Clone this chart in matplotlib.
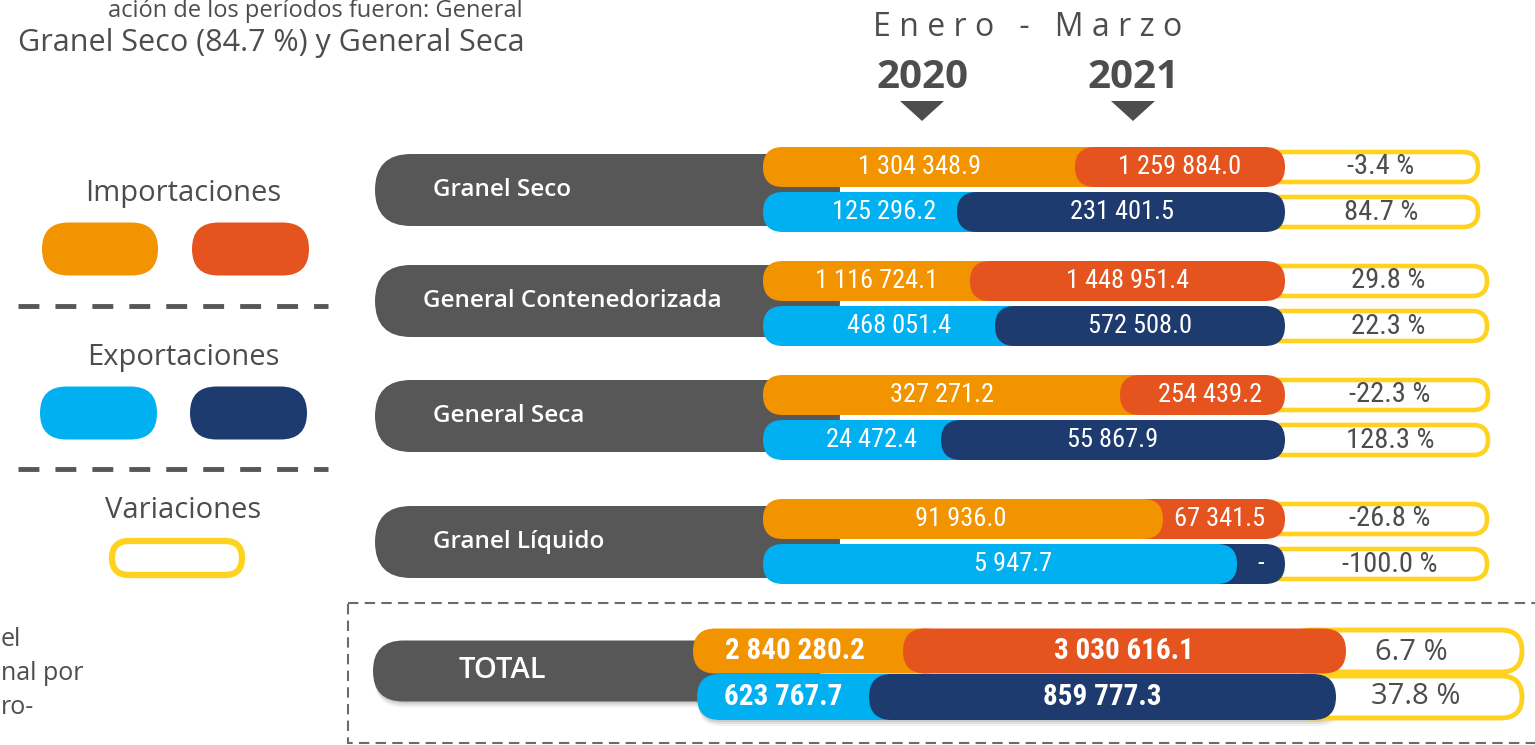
import os
import numpy as np
import matplotlib.pyplot as plt
from matplotlib.patches import FancyBboxPatch, Rectangle, Polygon
from matplotlib import font_manager
from matplotlib.font_manager import FontProperties

# ---------------- data ----------------
categorias = ["Granel Seco", "General Contenedorizada", "General Seca", "Granel Líquido"]
imp_2020 = [1304348.9, 1116724.1, 327271.2, 91936.0]
imp_2021 = [1259884.0, 1448951.4, 254439.2, 67341.5]
exp_2020 = [125296.2, 468051.4, 24472.4, 5947.7]
exp_2021 = [231401.5, 572508.0, 55867.9, 0.0]
var_imp = [-3.4, 29.8, -22.3, -26.8]
var_exp = [84.7, 22.3, 128.3, -100.0]
total_imp = [2840280.2, 3030616.1]
total_exp = [623767.7, 859777.3]
var_total = [6.7, 37.8]
anios = ["2020", "2021"]

# ---------------- colours ----------------
c_imp20 = "#F29400"
c_imp21 = "#E5531F"
c_exp20 = "#00B0F0"
c_exp21 = "#1E3B6F"
c_grey = "#575757"
c_yel = "#FFD21F"
c_txt = "#4D4D4D"

# condensed font for the numbers, if one is installed
files = [f.fname for f in font_manager.fontManager.ttflist]
def find(patterns):
    for p in patterns:
        for f in files:
            if os.path.basename(f).lower() == p.lower():
                return f
    return None

reg_file = find(["RobotoCondensed-Regular.ttf", "DejaVuSansCondensed.ttf"])
bold_file = find(["RobotoCondensed-Bold.ttf", "DejaVuSansCondensed-Bold.ttf"])

def numfont(size, bold=False):
    f = bold_file if bold else reg_file
    if f:
        return FontProperties(fname=f, size=size)
    return FontProperties(family="DejaVu Sans", size=size * 0.85,
                          weight="bold" if bold else "normal")

f_txt = ["Open Sans", "DejaVu Sans"]

def fmt(v):
    if v == 0:
        return "-"
    return f"{v:,.1f}".replace(",", " ")

def pct(v):
    return f"{v:.1f} %"

def pill(ax, x0, x1, yc, h, fc, ec="none", lw=0, z=2, alpha=1):
    p = FancyBboxPatch((x0, yc - h / 2), x1 - x0, h,
                       boxstyle=f"round,pad=0,rounding_size={h/2}",
                       fc=fc, ec=ec, lw=lw, zorder=z, alpha=alpha)
    ax.add_patch(p)

def shadow(ax, x0, x1, yc, h, z):
    for k, a in [(6, 0.05), (4, 0.07), (2, 0.09)]:
        pill(ax, x0 + 1, x1 + k, yc + k, h, "black", z=z, alpha=a)

fig = plt.figure(figsize=(15.35, 7.45), dpi=100)
ax = fig.add_axes([0, 0, 1, 1])
ax.set_xlim(0, 1535)
ax.set_ylim(745, 0)
ax.axis("off")

# ---------------- layout (pixels) ----------------
row_y = [190, 301, 416, 542]
imp_y = [167, 281, 395, 519]
exp_y = [212, 326, 440, 564]
imp_split = [1075, 970, 1120, 1163]
exp_split = [957, 995, 941, 1237]
top21 = [True, True, True, False]
imp20_tx = [920, 877, 942, 961]
imp21_tx = [1180, 1128, 1210, 1220]
exp20_tx = [884, 899, 871, 1013]
exp21_tx = [1122, 1140, 1113, 1261]
var_tx = [1381, 1388, 1390, 1390]
var_right = [1478, 1487, 1488, 1487]
x_left, x_right, h_bar = 763, 1285, 40

def split_bar(ax, yc, split, on_top21, c20, c21, v20, v21, h, x0, x1, fp, t20, t21, z0=3):
    r = h / 2
    if on_top21:
        pill(ax, x0, split + 2 * r, yc, h, c20, z=z0)
        pill(ax, split, x1, yc, h, c21, z=z0 + 1)
    else:
        pill(ax, split - 2 * r, x1, yc, h, c21, z=z0)
        pill(ax, x0, split, yc, h, c20, z=z0 + 1)
    ax.text(t20, yc, fmt(v20), color="white", fontproperties=fp, ha="center", va="center",
            zorder=z0 + 3)
    ax.text(t21, yc, fmt(v21), color="white", fontproperties=fp, ha="center", va="center",
            zorder=z0 + 3)

for i, cat in enumerate(categorias):
    pill(ax, 375, 840, row_y[i], 72, c_grey, z=1)
    ax.text(433 if i != 1 else 423, row_y[i], cat, color="white", fontsize=17.5, weight="semibold",
            family=f_txt, ha="left", va="center", zorder=6)
    split_bar(ax, imp_y[i], imp_split[i], top21[i], c_imp20, c_imp21, imp_2020[i], imp_2021[i],
              h_bar, x_left, x_right, numfont(19), imp20_tx[i], imp21_tx[i])
    split_bar(ax, exp_y[i], exp_split[i], top21[i], c_exp20, c_exp21, exp_2020[i], exp_2021[i],
              h_bar, x_left, x_right, numfont(19), exp20_tx[i], exp21_tx[i])
    for yc, v in [(imp_y[i], var_imp[i]), (exp_y[i], var_exp[i])]:
        pill(ax, 1230, var_right[i], yc, 30, "white", ec=c_yel, lw=3.3, z=2)
        ax.text(var_tx[i], yc, pct(v), color=c_txt, fontproperties=numfont(20.5),
                ha="center", va="center", zorder=6)

# ---------------- total ----------------
ax.add_patch(Rectangle((348, 603), 1300, 140, fill=False, ec="#6b6b6b", lw=1.5,
                       ls=(0, (5, 3)), zorder=0))
shadow(ax, 373, 820, 671, 61, z=0.5)
pill(ax, 373, 820, 671, 61, c_grey, z=1)
ax.text(502, 671, "TOTAL", color="white", fontsize=21, weight="semibold",
        family=f_txt, ha="center", va="center", zorder=6)
shadow(ax, 697, 1336, 697, 46, z=1.5)
pill(ax, 1290, 1522, 651, 42, "white", ec=c_yel, lw=3.5, z=2)
pill(ax, 1290, 1522, 697, 42, "white", ec=c_yel, lw=3.5, z=2)
split_bar(ax, 697, 869, True, c_exp20, c_exp21, total_exp[0], total_exp[1], 46, 697, 1336,
          numfont(21, bold=True), 783, 1102, z0=3)
split_bar(ax, 651, 903, True, c_imp20, c_imp21, total_imp[0], total_imp[1], 45, 693, 1346,
          numfont(21, bold=True), 795, 1124, z0=5)
ax.text(1411, 652, pct(var_total[0]), color=c_txt, fontsize=21, ha="center", va="center",
        family=f_txt, zorder=8)
ax.text(1416, 696, pct(var_total[1]), color=c_txt, fontsize=21, ha="center", va="center",
        family=f_txt, zorder=8)

# ---------------- header ----------------
ax.text(1028, 27, "E n e r o   -   M a r z o", color=c_txt, fontsize=23,
        family=f_txt, ha="center", va="center")
for xc, a in zip([922, 1133], anios):
    ax.text(xc, 77, a, color=c_txt, fontsize=29, weight="bold",
            family=f_txt, ha="center", va="center")
    ax.add_patch(Polygon([[xc - 22, 101], [xc + 22, 101], [xc, 121]], closed=True,
                         fc=c_txt, ec="none"))

# ---------------- legend ----------------
ax.text(183, 194, "Importaciones", color=c_txt, fontsize=21, family=f_txt,
        ha="center", va="center")
pill(ax, 42, 158, 249, 53, c_imp20)
pill(ax, 192, 309, 249, 53, c_imp21)
ax.plot([18, 328], [306, 306], color=c_grey, lw=3.5, ls=(0, (4.3, 3.3)))
ax.text(183, 358, "Exportaciones", color=c_txt, fontsize=21, family=f_txt,
        ha="center", va="center")
pill(ax, 40, 157, 413, 53, c_exp20)
pill(ax, 190, 307, 413, 53, c_exp21)
ax.plot([18, 328], [469, 469], color=c_grey, lw=3.5, ls=(0, (4.3, 3.3)))
ax.text(183, 511, "Variaciones", color=c_txt, fontsize=21, family=f_txt,
        ha="center", va="center")
pill(ax, 112, 242, 558, 34, "white", ec=c_yel, lw=4.5)

# ---------------- paragraph fragments ----------------
ax.text(523, -1, "ación de los períodos fueron: General", color=c_txt, fontsize=17,
        family=f_txt, ha="right", va="top")
ax.text(525, 43, "Granel Seco (84.7 %) y General Seca", color=c_txt, fontsize=22,
        family=f_txt, ha="right", va="center")
for yy, t in [(640, "el"), (674, "nal por"), (707, "ro-")]:
    ax.text(1, yy, t, color=c_txt, fontsize=18, family=f_txt, ha="left", va="center")

fig.savefig("out.png", dpi=100)
